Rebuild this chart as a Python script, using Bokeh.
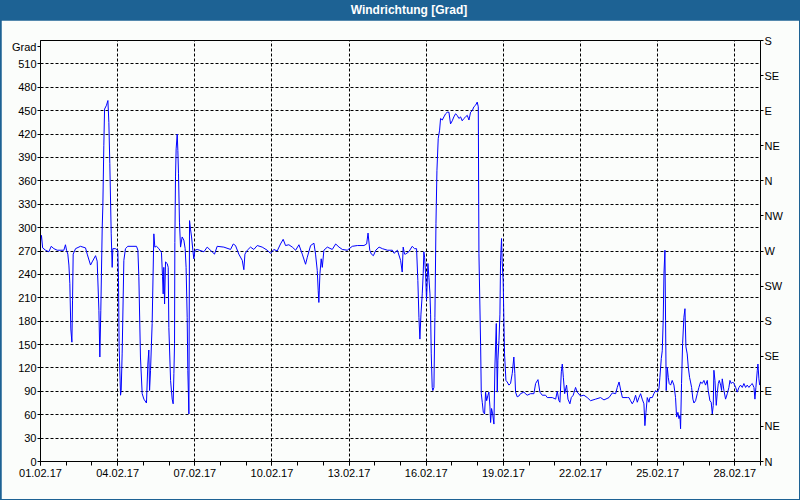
from bokeh.plotting import figure
from bokeh.models import LinearAxis, FixedTicker, Div, Range1d, GlobalInlineStyleSheet
from bokeh.layouts import column
from bokeh.embed import file_html
from bokeh.resources import INLINE

title_text = "Windrichtung [Grad]"
unit_text = "Grad"

# hours since 01.02.17 00:00
hours = [
    0, 0.9, 2.0, 4.7, 7.8, 10.0, 12.5, 15.6, 21.8, 23.3, 24.3, 25.5, 26.5, 27.4, 28.3, 29.3, 29.9, 30.5, 32.7, 37.3,
    42.0, 43.6, 46.7, 48.2, 51.4, 52.9, 54.5, 55.4, 56.3, 57.6, 58.2, 59.1, 59.8, 61.6, 62.9, 63.8, 64.7, 66.0, 66.9, 67.5,
    70.0, 72.2, 72.8, 73.4, 74.7, 75.3, 76.2, 77.8, 79.3, 81.5, 89.6, 90.9, 91.8, 93.3, 94.9, 96.5, 98.9, 100.2, 101.1, 101.8,
    102.7, 104.2, 105.8, 106.7, 108.3, 110.5, 112.9, 113.9, 114.5, 115.1, 115.8, 116.7, 118.2, 119.2, 119.8, 121.4, 122.9, 123.8, 124.5, 125.1,
    125.4, 126.0, 126.6, 127.6, 128.2, 128.8, 129.7, 130.7, 132.2, 133.8, 135.0, 135.9, 136.9, 137.5, 138.5, 139.1, 140.0, 141.0, 142.2, 143.1,
    144.1, 146.3, 152.5,
    155.6, 162.4, 164.9, 171.1, 177.4, 179.9, 182.0, 185.1, 188.3, 189.8, 190.8, 193.0, 196.0, 199.1, 202.3, 206.9, 211.6, 214.7, 217.8, 220.9,
    224.0, 226.5, 228.7, 231.8, 235.0, 238.1, 241.2, 244.3, 247.4, 249.0, 252.1, 255.2, 256.7, 258.3, 259.2, 259.8, 260.8, 262.0, 263.0, 264.5,
    267.7, 272.3, 275.5, 278.6, 281.7, 286.3, 291.0, 295.7, 301.9, 304.4, 305.7, 307.3, 308.8, 310.7, 312.9, 316.0, 319.1, 323.8, 328.4, 330.0,
    333.1,
    336.1, 337.6, 338.5, 339.8, 340.7, 343.8, 346.9, 349.1, 351.0, 352.2, 353.2, 354.1, 355.1, 356.3, 357.2, 357.8, 358.5, 359.4, 360.3, 361.6,
    362.5, 363.5, 364.1, 364.7, 365.6, 366.2, 367.2, 368.1, 369.1, 370.0, 371.2, 372.5, 373.4, 375.0, 376.5, 378.1, 379.6, 381.2, 382.7, 384.3,
    385.8, 387.4, 388.9, 390.5, 392.1, 393.6, 395.2, 396.7, 398.3, 399.9, 401.4, 403.0, 404.5, 406.1, 407.6, 408.6, 409.2, 410.8, 411.4, 412.3,
    413.3, 414.5, 415.4, 416.4, 417.6, 418.5, 419.5, 420.1, 421.0, 422.0, 423.2, 424.1, 424.7, 425.4, 426.3, 426.9, 427.9, 428.8, 429.4, 430.3,
    430.9, 431.8, 433.1, 434.4, 435.6, 437.2, 438.7, 440.3, 441.8, 442.7, 443.4, 444.9, 446.5, 448.0, 451.1, 454.2,
    457.4, 460.5, 462.1, 464.3, 466.1, 468.3, 471.4, 473.0, 477.7, 480.8, 482.3, 483.9, 484.8, 486.1, 487.0, 488.0, 489.2, 491.0, 492.3, 494.1,
    495.4, 497.2, 499.4, 500.9, 504.1, 507.2, 510.3, 513.4, 518.1, 522.7, 525.9, 530.6, 533.7, 536.8, 538.3, 540.0, 541.6, 543.1, 547.8,
    549.2, 550.7, 552.3, 553.9, 555.4, 557.0, 558.5, 560.1, 561.6, 563.2, 564.1, 565.1, 566.3, 567.9, 568.8, 571.0, 572.5, 574.1, 575.6, 577.2,
    578.1, 579.4, 580.3, 581.2, 581.9, 582.8, 583.4, 584.0, 585.0, 585.9, 586.8, 588.1, 589.6, 591.2, 592.7, 593.7, 594.9, 595.9, 596.8, 597.4,
    598.3, 599.3, 600.5, 601.5, 602.4, 603.6, 604.6, 605.8, 606.7, 607.7, 608.9, 609.9, 611.4, 613.0, 614.5, 616.1, 617.6, 619.2, 620.7, 622.3,
    623.2, 624.8, 626.0, 627.0, 627.9, 628.5, 629.5, 630.7, 631.6, 632.6, 633.5, 634.8, 635.7, 636.3, 637.9, 639.4, 641.0, 642.5, 643.5, 644.7,
    646.0, 647.2, 648.8, 650.3, 651.9, 653.4, 655.0, 656.5, 658.1, 659.6, 661.2, 662.8, 664.3, 665.9, 666.8, 667.7, 669.0, 669.6, 670.5, 671.2,
]

degrees = [
    283, 290, 274, 271, 269, 276, 273, 271, 271, 278, 271, 266, 252, 228, 170, 153, 207, 266, 273, 276,
    274, 266, 252, 256, 264, 257, 194, 134, 194, 300, 328, 405, 452, 457, 463, 435, 382, 292, 249, 273,
    273, 271, 232, 147, 85, 91, 138, 258, 273, 276, 276, 271, 237, 134, 87, 80, 75, 125, 143, 91,
    117, 177, 292, 275, 276, 273, 268, 237, 215, 249, 202, 256, 254, 249, 172, 104, 80, 74, 113, 151,
    281, 365, 401, 420, 399, 369, 307, 275, 288, 284, 273, 249, 185, 117, 61, 309, 298, 288, 271, 260,
    271, 272, 269,
    275, 266, 276, 275, 272, 279, 277, 266, 258, 246, 266, 271, 275, 272, 277, 275, 271, 267, 272, 270,
    279, 285, 277, 278, 275, 271, 278, 266, 253, 262, 277, 280, 266, 245, 219, 204, 241, 260, 249, 271,
    275, 272, 279, 275, 272, 271, 276, 277, 277, 279, 293, 271, 266, 264, 271, 275, 273, 271, 271, 267,
    271,
    258, 243, 275, 266, 266, 269, 276, 273, 273, 232, 185, 157, 189, 215, 241, 269, 262, 241, 207, 254,
    236, 215, 189, 138, 95, 91, 95, 185, 305, 373, 414, 425, 440, 438, 442, 446, 448, 448, 433, 437,
    442, 446, 444, 440, 442, 437, 440, 442, 444, 438, 448, 450, 455, 457, 461, 455, 267, 147, 87, 76,
    63, 61, 89, 78, 85, 89, 70, 50, 68, 61, 48, 121, 147, 177, 89, 130, 155, 189, 258, 286,
    256, 232, 138, 104, 102, 98, 100, 113, 134, 113, 89, 83, 84, 87, 89, 85,
    87, 87, 100, 105, 89, 85, 85, 82, 82, 80, 90, 78, 76, 115, 125, 108, 87, 98, 80, 74,
    82, 85, 95, 89, 84, 85, 82, 78, 80, 82, 79, 82, 88, 87, 95, 102, 91, 82, 82,
    82, 78, 74, 78, 85, 76, 82, 87, 80, 74, 46, 63, 82, 76, 82, 82, 87, 91, 89, 93,
    108, 132, 142, 181, 241, 271, 181, 91, 121, 108, 100, 98, 104, 98, 82, 57, 63, 55, 59, 42,
    100, 151, 185, 196, 147, 138, 121, 108, 102, 95, 80, 75, 78, 87, 95, 102, 100, 104, 98, 104,
    91, 78, 76, 61, 72, 117, 104, 72, 87, 100, 104, 98, 91, 106, 91, 80, 87, 95, 104, 100,
    102, 100, 95, 89, 95, 98, 95, 100, 95, 98, 95, 98, 100, 95, 80, 95, 117, 125, 106, 98,
]

date_ticks = [0, 3, 6, 9, 12, 15, 18, 21, 24, 27]
date_labels = ["01.02.17", "04.02.17", "07.02.17", "10.02.17", "13.02.17",
               "16.02.17", "19.02.17", "22.02.17", "25.02.17", "28.02.17"]
day_ticks = list(range(0, 29))
grad_ticks = list(range(0, 511, 30))
unit_tick = 532  # where the "Grad" caption sits on the left axis
grid_ticks = list(range(0, 541, 30))
compass_ticks = list(range(0, 541, 45))
compass_labels = ["N", "NE", "E", "SE", "S", "SW", "W", "NW", "N", "NE", "E", "SE", "S"]

assert len(hours) == len(degrees)
days = [h / 24.0 for h in hours]

FONT = "Liberation Sans"
BG = "#FBFDFB"
BLUE_BAR = "#1D6294"

p = figure(width=798, height=479, x_range=Range1d(0, 28), y_range=Range1d(0, 540),
           output_backend="svg", toolbar_location=None,
           min_border_left=39, min_border_right=39, min_border_top=20, min_border_bottom=38)
p.margin = (0, 1, 1, 1)
p.background_fill_color = BG
p.border_fill_color = BG
p.outline_line_color = "black"
p.outline_line_width = 1

p.line(days, degrees, line_color="#0000FF", line_width=1)

# bottom axis
xa = p.xaxis[0]
xa.ticker = FixedTicker(ticks=date_ticks, minor_ticks=day_ticks)
xa.major_label_overrides = {t: l for t, l in zip(date_ticks, date_labels)}
xa.major_tick_in = 0
xa.major_tick_out = 4
xa.minor_tick_in = 0
xa.minor_tick_out = 4
xa.major_label_standoff = 3
xa.axis_line_color = "black"
xa.major_tick_line_color = "black"
xa.minor_tick_line_color = "black"
xa.major_label_text_font = FONT
xa.major_label_text_font_size = "11px"
xa.major_label_text_color = "black"

# left axis (with the "Grad" caption as top label)
ya = p.yaxis[0]
ya.ticker = FixedTicker(ticks=grad_ticks + [unit_tick])
ya.major_label_overrides = {unit_tick: unit_text}
ya.major_tick_in = 0
ya.major_tick_out = 3
ya.minor_tick_line_color = None
ya.major_label_standoff = 1
ya.axis_line_color = "black"
ya.major_tick_line_color = "black"
ya.major_label_text_font = FONT
ya.major_label_text_font_size = "11px"
ya.major_label_text_color = "black"

# right compass axis
ra = LinearAxis(ticker=FixedTicker(ticks=compass_ticks))
ra.major_label_overrides = {t: l for t, l in zip(compass_ticks, compass_labels)}
ra.major_tick_in = 0
ra.major_tick_out = 3
ra.minor_tick_line_color = None
ra.major_label_standoff = 1
ra.axis_line_color = "black"
ra.major_tick_line_color = "black"
ra.major_label_text_font = FONT
ra.major_label_text_font_size = "11px"
ra.major_label_text_color = "black"
p.add_layout(ra, "right")

# grids
p.xgrid.ticker = FixedTicker(ticks=date_ticks)
p.ygrid.ticker = FixedTicker(ticks=grid_ticks)
for g in (p.xgrid[0], p.ygrid[0]):
    g.grid_line_color = "black"
    g.grid_line_dash = "3 2"
    g.grid_line_width = 1

title = Div(text=title_text, width=800, height=20, margin=0,
            styles={"background-color": BLUE_BAR, "color": "white", "font-weight": "bold",
                    "font-family": FONT, "font-size": "12px", "text-align": "center",
                    "line-height": "20px", "padding-left": "18px", "box-sizing": "border-box"})

layout = column(title, p, spacing=0, width=800, height=500,
                styles={"background-color": BLUE_BAR})
layout.stylesheets = [GlobalInlineStyleSheet(css="html, body { margin: 0 !important; padding: 0; overflow: hidden; }")]

open("out.html", "w").write(file_html(layout, INLINE))
